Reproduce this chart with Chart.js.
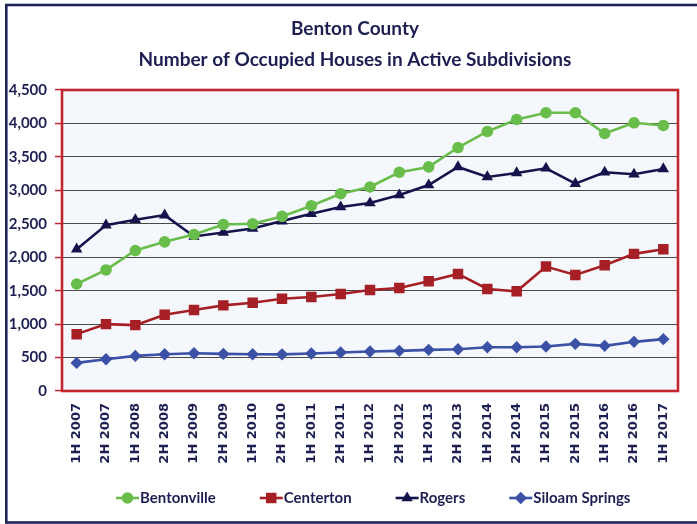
<!DOCTYPE html>
<html>
<head>
<meta charset="utf-8">
<script src="https://cdn.jsdelivr.net/npm/chart.js@4"></script>
<style>
  html, body { margin: 0; padding: 0; background: #ffffff; }
  #wrap { position: relative; width: 697px; height: 524px; }
</style>
</head>
<body>
<div id="wrap"><canvas id="c" width="697" height="524"></canvas></div>
<script>
const titleLines = ['Benton County', 'Number of Occupied Houses in Active Subdivisions'];
const categories = ['1H 2007','2H 2007','1H 2008','2H 2008','1H 2009','2H 2009','1H 2010','2H 2010','1H 2011','2H 2011','1H 2012','2H 2012','1H 2013','2H 2013','1H 2014','2H 2014','1H 2015','2H 2015','1H 2016','2H 2016','1H 2017'];
const seriesNames = ['Bentonville', 'Centerton', 'Rogers', 'Siloam Springs'];
const bentonville = [1600,1810,2100,2230,2340,2490,2500,2610,2770,2950,3050,3270,3350,3640,3880,4060,4160,4160,3850,4010,3970];
const centerton   = [850,1000,985,1140,1210,1280,1320,1380,1405,1450,1510,1540,1640,1750,1525,1490,1860,1735,1880,2050,2120];
const rogers      = [2120,2480,2560,2630,2310,2370,2430,2540,2650,2750,2810,2930,3080,3350,3200,3260,3330,3100,3270,3240,3320];
const siloam      = [420,475,525,550,565,555,550,548,560,575,590,600,615,625,655,655,665,705,675,735,775];
const yTicks = [0,500,1000,1500,2000,2500,3000,3500,4000,4500];

const NAVY_TEXT = '#1d1f52';
const styles = [
  { color: '#69bd4b', point: 'circle', r: 5.8 },
  { color: '#a51f24', point: 'rect', r: 7.4 },
  { color: '#15134b', point: 'triangle', r: 6.6 },
  { color: '#3b51a6', point: 'rectRot', r: 6.2 }
];
const seriesData = [bentonville, centerton, rogers, siloam];

const datasets = seriesData.map((d, i) => ({
  label: seriesNames[i],
  data: d,
  borderColor: styles[i].color,
  backgroundColor: styles[i].color,
  pointBackgroundColor: styles[i].color,
  pointBorderColor: styles[i].color,
  pointStyle: styles[i].point,
  pointRadius: styles[i].r,
  pointHoverRadius: styles[i].r,
  pointBorderWidth: 0,
  borderWidth: 2.6,
  tension: 0,
  fill: false
}));

const decor = {
  id: 'decor',
  beforeDraw(chart) {
    const ctx = chart.ctx;
    const a = chart.chartArea;
    ctx.save();
    ctx.strokeStyle = '#1e2456';
    ctx.lineWidth = 2.6;
    ctx.strokeRect(6.3, 5, 760, 517.5);
    ctx.fillStyle = '#f4f7fc';
    ctx.fillRect(a.left, a.top, a.right - a.left, a.bottom - a.top);
    ctx.restore();
  },
  beforeDatasetsDraw(chart) {
    const ctx = chart.ctx;
    const a = chart.chartArea;
    ctx.save();
    ctx.strokeStyle = '#c1252d';
    ctx.lineWidth = 2.6;
    ctx.strokeRect(a.left, a.top, a.right - a.left, a.bottom - a.top);
    ctx.restore();
  },
  afterDraw(chart) {
    const ctx = chart.ctx;
    ctx.save();
    ctx.fillStyle = NAVY_TEXT;
    ctx.font = 'bold 19px Lato';
    ctx.textAlign = 'center';
    ctx.textBaseline = 'alphabetic';
    ctx.fillText(titleLines[0], 355, 35);
    ctx.fillText(titleLines[1], 355, 66);
    const ly = 498;
    let x = 116;
    ctx.font = 'bold 15px Lato';
    ctx.textAlign = 'left';
    ctx.textBaseline = 'middle';
    chart.data.datasets.forEach((ds, i) => {
      ctx.strokeStyle = ds.borderColor;
      ctx.lineWidth = 2.6;
      ctx.beginPath();
      ctx.moveTo(x, ly);
      ctx.lineTo(x + 23, ly);
      ctx.stroke();
      ctx.fillStyle = ds.borderColor;
      Chart.helpers.drawPoint(ctx, { pointStyle: ds.pointStyle, radius: ds.pointRadius, borderWidth: 0 }, x + 11.5, ly);
      ctx.fillStyle = NAVY_TEXT;
      const tx = x + 24;
      ctx.fillText(ds.label, tx, ly);
      x = tx + ctx.measureText(ds.label).width + 44;
    });
    ctx.restore();
  }
};

new Chart(document.getElementById('c'), {
  type: 'line',
  data: { labels: categories, datasets },
  plugins: [decor],
  options: {
    responsive: false,
    animation: false,
    layout: { padding: { top: 90, right: 19, left: 0, bottom: 0 } },
    plugins: { legend: { display: false }, title: { display: false }, tooltip: { enabled: false } },
    scales: {
      x: {
        offset: true,
        grid: { display: false, drawTicks: false },
        border: { display: false },
        afterFit(s) { s.height = 133; },
        ticks: {
          autoSkip: false,
          maxRotation: 90,
          minRotation: 90,
          padding: 12,
          color: NAVY_TEXT,
          font: { family: 'DejaVu Sans', weight: 'bold', size: 13 }
        }
      },
      y: {
        min: 0,
        max: 4500,
        afterFit(s) { s.width = 62; },
        afterBuildTicks(s) { s.ticks = yTicks.map(v => ({ value: v })); },
        border: { display: false },
        grid: {
          color: '#4a4a4a',
          lineWidth: 1.1,
          drawTicks: true,
          tickLength: 7,
          tickColor: '#c1252d',
          tickWidth: 1.5
        },
        ticks: {
          padding: 8,
          color: NAVY_TEXT,
          font: { family: 'Lato', weight: 'bold', size: 15 },
          callback: v => v.toLocaleString('en-US')
        }
      }
    }
  }
});
</script>
</body>
</html>
